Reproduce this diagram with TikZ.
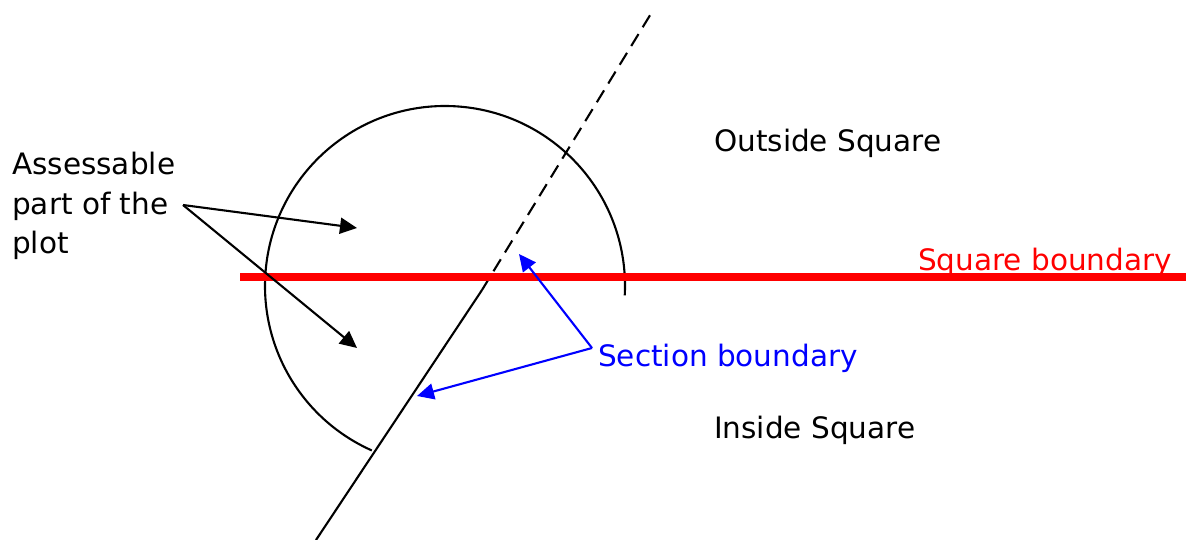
\documentclass[tikz,border=0pt]{standalone}
\usepackage{fontspec}
\setmainfont{DejaVu Sans}
\usetikzlibrary{arrows.meta}
\begin{document}
\begin{tikzpicture}[x=1pt,y=-1pt,
  lbl/.style={inner sep=0pt,anchor=base west,font=\fontsize{29.5}{39}\selectfont},
  thin/.style={line width=2.1pt,black},
  ptr/.style={line width=2.1pt,-{Triangle[length=17pt,width=16pt]}},
  bptr/.style={ptr,blue},
  sqb/.style={line width=8pt,red}]
\useasboundingbox (0,0) rectangle (1186,540);
% circle arc
\draw[thin] (445,286) ++(3:180) arc[start angle=3,end angle=-246,radius=180];
% section line
\coordinate (lb) at (316,540);
\coordinate (lm) at (482,290);
\coordinate (lt) at (652,12);
\draw[thin] (lb) -- (lm);
\draw[thin,dash pattern=on 14pt off 8pt] (lm) -- (lt);
% square boundary
\coordinate (s1) at (240,277);
\coordinate (s2) at (1186,277);
\draw[sqb] (s1) -- (s2);
% labels
\node[lbl] (out) at (714,152) {Outside Square};
\node[lbl] (ins) at (714,438) {Inside Square};
\node[lbl,red] (sq) at (918,270) {Square boundary};
\node[lbl,blue] (sec) at (598,366) {Section boundary};
\node[lbl,align=left] (ass) at (12,253) {Assessable\\part of the\\plot};
% pointers
\coordinate (ap) at (183,205);
\coordinate (t1) at (357,228);
\coordinate (t2) at (357,348);
\draw[ptr] (ap) -- (t1);
\draw[ptr] (ap) -- (t2);
\coordinate (bp) at (592,348);
\coordinate (t3) at (519,254);
\coordinate (t4) at (417,396);
\draw[bptr] (bp) -- (t3);
\draw[bptr] (bp) -- (t4);
\end{tikzpicture}
\end{document}
